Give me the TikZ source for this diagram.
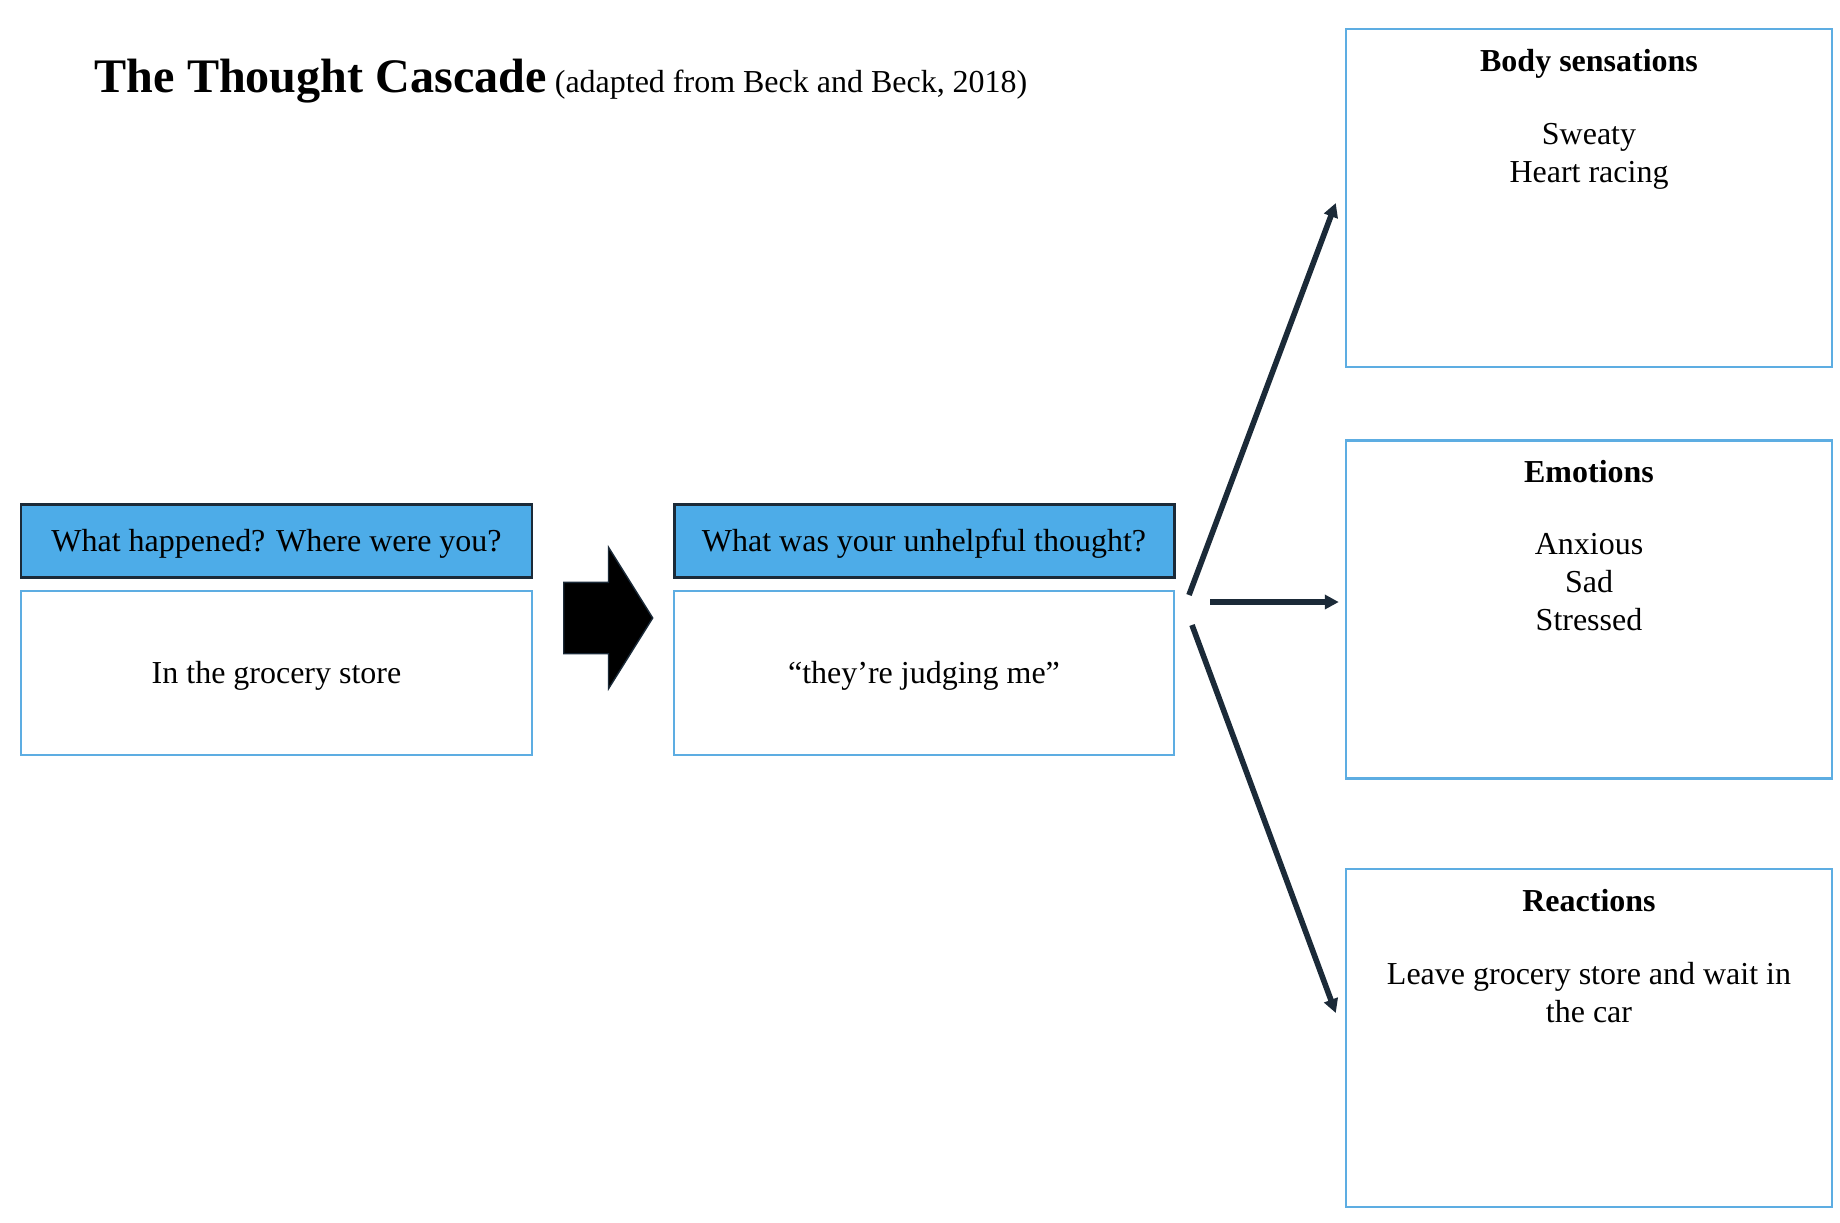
\documentclass[tikz,border=0pt]{standalone}
\usepackage{fontspec}
\setmainfont{Liberation Serif}
\usetikzlibrary{positioning, arrows.meta, shapes.arrows}
\definecolor{headblue}{HTML}{4DACE8}
\definecolor{edgeblue}{HTML}{5DADE2}
\definecolor{darkline}{HTML}{1B2A38}

\begin{document}
\begin{tikzpicture}[x=0.1mm, y=-0.1mm,
  font=\fontsize{9.1}{10.7}\selectfont,
  headbox/.style={draw=darkline, line width=0.85pt, fill=headblue, minimum width=51.1mm, minimum height=7.3mm, inner sep=0pt, text depth=0pt},
  textbox/.style={draw=edgeblue, line width=0.7pt, minimum width=51.1mm, minimum height=16.4mm, inner sep=0pt, text depth=0pt},
  sidebox/.style={draw=edgeblue, line width=0.7pt, minimum width=48.6mm, minimum height=33.8mm, inner sep=0pt},
  sidetext/.style={align=center, anchor=north, inner sep=0pt},
  link/.style={draw=darkline, line width=1.6pt, -{Triangle[length=1.4mm, width=1.4mm]}}]
\useasboundingbox (0,0) rectangle (1840,1222);
% Title
\node[anchor=base west, inner sep=0pt] (title) at (94,92)
  {{\fontsize{13.7}{16}\selectfont\bfseries The Thought Cascade} (adapted from Beck and Beck, 2018)};
% Situation
\node[headbox] (event) at (276.5,540.5) {What happened? Where were you?};
\node[textbox, below=1.1mm of event] (situation) {In the grocery store};
% Big arrow
\node[single arrow, fill=black, draw=darkline, line width=0.4pt, minimum height=8.9mm,
  inner xsep=0pt, inner ysep=3.5mm, single arrow head extend=3.5mm, single arrow tip angle=116, anchor=west] (flow) at (563,618) {};
% Thought
\node[headbox, minimum width=50mm] (question) at (924,540.5) {What was your unhelpful thought?};
\node[textbox, minimum width=50mm, below=1.1mm of question] (thought) {“they’re judging me”};
% Outcomes
\node[sidebox] (body) at (1589,198) {};
\node[sidetext, below=2.1mm of body.north] (bodytext) {\textbf{Body sensations}\\[10pt]Sweaty\\Heart racing};
\node[sidebox] (emotions) at (1589,609.5) {};
\node[sidetext, below=2mm of emotions.north] (emotext) {\textbf{Emotions}\\[10pt]Anxious\\Sad\\Stressed};
\node[sidebox] (reactions) at (1589,1038) {};
\node[sidetext, below=2.1mm of reactions.north] (reacttext) {\textbf{Reactions}\\[10pt]Leave grocery store and wait in\\the car};
% Fork arrows
\coordinate (forkup) at (1189,595);
\coordinate (forkmid) at (1210,602);
\coordinate (forkdown) at (1192,625);
\draw[link] (forkup) -- ([xshift=-0.9mm, yshift=-0.5mm]body.west);
\draw[link] (forkmid) -- ([xshift=-0.6mm, yshift=0.75mm]emotions.west);
\draw[link] (forkdown) -- ([xshift=-0.9mm, yshift=2.5mm]reactions.west);
\end{tikzpicture}
\end{document}
